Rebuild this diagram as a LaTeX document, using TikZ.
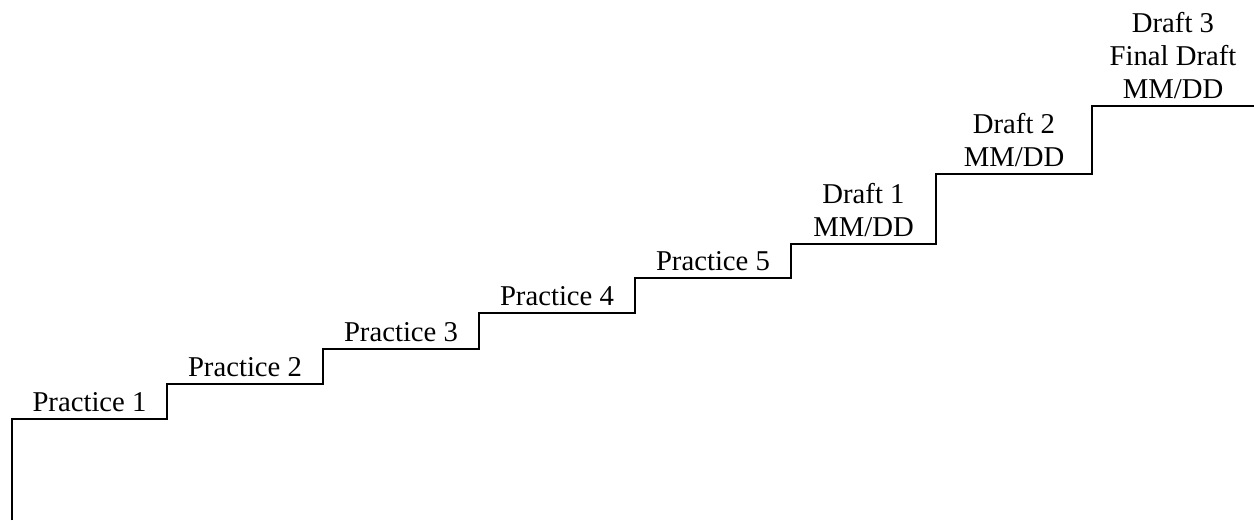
\documentclass[tikz,border=0pt]{standalone}
\usepackage{fontspec}
\setmainfont{Liberation Serif}
\begin{document}
\begin{tikzpicture}[x=0.5pt,y=-0.5pt,
  stair/.style={line width=0.75pt, line join=miter},
  steplabel/.style={anchor=south, inner sep=0pt, text depth=0pt, align=center,
    font=\fontsize{14.35}{16.5}\selectfont}]
\useasboundingbox (0,0) rectangle (1254,520);
\coordinate (p0) at (12,520);
\coordinate (p1) at (12,419);
\coordinate (p2) at (167,419);
\coordinate (p3) at (167,384);
\coordinate (p4) at (323,384);
\coordinate (p5) at (323,349);
\coordinate (p6) at (479,349);
\coordinate (p7) at (479,313);
\coordinate (p8) at (635,313);
\coordinate (p9) at (635,278);
\coordinate (p10) at (791,278);
\coordinate (p11) at (791,244);
\coordinate (p12) at (936,244);
\coordinate (p13) at (936,174);
\coordinate (p14) at (1092,174);
\coordinate (p15) at (1092,106);
\coordinate (p16) at (1256,106);
\draw[stair] (p0) -- (p1) -- (p2) -- (p3) -- (p4) -- (p5) -- (p6) -- (p7) -- (p8)
  -- (p9) -- (p10) -- (p11) -- (p12) -- (p13) -- (p14) -- (p15) -- (p16);
\node[steplabel] (l1) at (89.5,412) {Practice 1};
\node[steplabel] (l2) at (245,377) {Practice 2};
\node[steplabel] (l3) at (401,342) {Practice 3};
\node[steplabel] (l4) at (557,306) {Practice 4};
\node[steplabel] (l5) at (713,271) {Practice 5};
\node[steplabel] (l6) at (863.5,237) {Draft 1\\MM/DD};
\node[steplabel] (l7) at (1014,167) {Draft 2\\MM/DD};
\node[steplabel] (l8) at (1173,99) {Draft 3\\Final Draft\\MM/DD};
\end{tikzpicture}
\end{document}
